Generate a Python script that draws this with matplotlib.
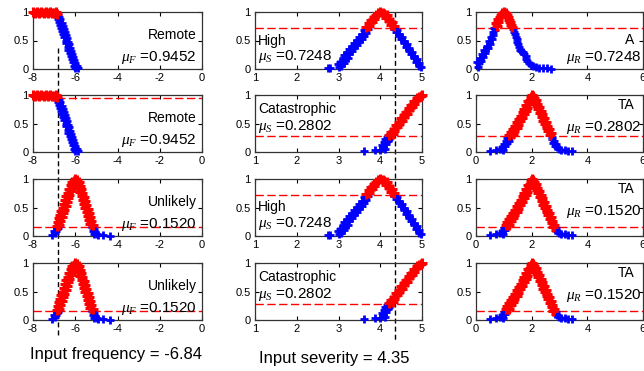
import matplotlib
matplotlib.use('Agg')
import matplotlib.pyplot as plt
from matplotlib.lines import Line2D
import numpy as np

plt.rcParams['font.family'] = ['Liberation Sans', 'DejaVu Sans']
plt.rcParams['mathtext.fontset'] = 'custom'
plt.rcParams['mathtext.it'] = 'Liberation Serif:italic'
plt.rcParams['mathtext.rm'] = 'Liberation Sans'
plt.rcParams['axes.unicode_minus'] = False

# ---- sampled membership clouds (read off the picture) ----
# frequency: Remote
remote_x = [-8.00, -7.90, -7.80, -7.70, -7.60, -7.50, -7.40, -7.30, -7.20, -7.10, -7.00, -6.92, -6.86,
            -6.84, -6.76, -6.82, -6.70, -6.76, -6.64, -6.72, -6.60, -6.66, -6.54, -6.62, -6.50,
            -6.56, -6.44, -6.52, -6.40, -6.46, -6.34, -6.42, -6.30, -6.36, -6.24, -6.32, -6.20,
            -6.26, -6.14, -6.22, -6.10, -6.16, -6.04, -6.12, -6.00, -6.06, -5.94, -6.00, -5.88]
remote_y = [1.00, 0.98, 1.00, 0.99, 1.00, 0.98, 1.00, 0.99, 1.00, 0.98, 0.99, 1.00, 0.97,
            0.94, 0.92, 0.88, 0.87, 0.83, 0.81, 0.78, 0.76, 0.72, 0.70, 0.67, 0.65,
            0.61, 0.59, 0.56, 0.54, 0.50, 0.48, 0.45, 0.43, 0.39, 0.37, 0.34, 0.32,
            0.28, 0.26, 0.23, 0.21, 0.17, 0.15, 0.12, 0.10, 0.06, 0.05, 0.02, 0.01]

# frequency: Unlikely
unlikely_x = [-7.10, -6.98, -6.92, -6.86, -7.02, -6.80, -6.88, -6.76, -6.84, -6.70, -6.78, -6.64,
              -6.72, -6.58, -6.66, -6.52, -6.60, -6.46, -6.54, -6.40, -6.48, -6.34, -6.42, -6.28,
              -6.36, -6.22, -6.30, -6.16, -6.22, -6.10, -6.14, -6.06, -6.00,
              -5.94, -5.90, -5.84, -5.86, -5.78, -5.82, -5.72, -5.76, -5.66, -5.70, -5.60, -5.64,
              -5.54, -5.58, -5.48, -5.52, -5.42, -5.46, -5.36, -5.40, -5.30, -5.34, -5.24, -5.28,
              -5.18, -5.22, -5.12, -5.16, -5.06, -4.98, -5.10, -4.90, -4.70, -4.35]
unlikely_y = [0.02, 0.05, 0.09, 0.12, 0.08, 0.14, 0.17, 0.20, 0.24, 0.27, 0.31, 0.33,
              0.37, 0.40, 0.44, 0.46, 0.50, 0.53, 0.57, 0.59, 0.63, 0.66, 0.70, 0.72,
              0.76, 0.79, 0.83, 0.85, 0.89, 0.92, 0.95, 0.97, 1.00,
              0.98, 0.94, 0.95, 0.90, 0.88, 0.84, 0.82, 0.77, 0.75, 0.70, 0.68, 0.63,
              0.61, 0.56, 0.54, 0.49, 0.47, 0.42, 0.40, 0.35, 0.33, 0.28, 0.26, 0.21,
              0.19, 0.15, 0.13, 0.09, 0.07, 0.04, 0.03, 0.02, 0.01, 0.00]

# severity: High
high_x = [2.75, 2.80, 3.00, 3.06, 2.98, 3.12, 3.04, 3.16, 3.10, 3.22, 3.14, 3.26, 3.20, 3.32,
          3.26, 3.38, 3.32, 3.44, 3.38, 3.50, 3.44, 3.56, 3.50, 3.62, 3.56, 3.66, 3.62, 3.70,
          3.66, 3.74, 3.72, 3.80, 3.78, 3.86, 3.84, 3.90, 3.94, 4.00,
          4.06, 4.10, 4.16, 4.14, 4.22, 4.20, 4.28, 4.26, 4.34, 4.32, 4.40, 4.38, 4.46, 4.44,
          4.52, 4.50, 4.58, 4.56, 4.64, 4.62, 4.70, 4.68, 4.76, 4.74, 4.82, 4.80, 4.88, 4.86,
          4.94, 4.92, 4.97]
high_y = [0.02, 0.01, 0.03, 0.06, 0.08, 0.10, 0.13, 0.15, 0.19, 0.20, 0.24, 0.26, 0.30, 0.31,
          0.35, 0.36, 0.40, 0.42, 0.46, 0.47, 0.51, 0.52, 0.56, 0.58, 0.62, 0.64, 0.68, 0.70,
          0.73, 0.76, 0.80, 0.82, 0.86, 0.88, 0.92, 0.95, 0.98, 1.00,
          0.99, 0.96, 0.94, 0.90, 0.88, 0.84, 0.82, 0.78, 0.75, 0.71, 0.69, 0.65, 0.62, 0.58,
          0.56, 0.52, 0.49, 0.45, 0.43, 0.39, 0.36, 0.32, 0.30, 0.26, 0.23, 0.19, 0.17, 0.13,
          0.10, 0.06, 0.04]

# severity: Catastrophic
cat_x = [3.62, 3.88, 4.00, 4.06, 4.12, 4.04, 4.14, 4.08, 4.18, 4.12, 4.22, 4.16, 4.26,
         4.22, 4.30, 4.26, 4.34, 4.32, 4.40, 4.38, 4.46, 4.44, 4.52, 4.50, 4.58, 4.56, 4.64,
         4.62, 4.70, 4.68, 4.76, 4.74, 4.82, 4.80, 4.88, 4.87, 4.93, 4.97, 5.00]
cat_y = [0.02, 0.03, 0.04, 0.08, 0.05, 0.12, 0.14, 0.17, 0.19, 0.22, 0.23, 0.26, 0.27,
         0.30, 0.31, 0.35, 0.37, 0.41, 0.43, 0.47, 0.49, 0.53, 0.55, 0.59, 0.61, 0.65, 0.67,
         0.71, 0.73, 0.77, 0.79, 0.83, 0.85, 0.89, 0.91, 0.95, 0.96, 0.99, 1.00]

# reliability: A
a_x = [0.06, 0.10, 0.04, 0.18, 0.14, 0.26, 0.22, 0.34, 0.30, 0.42, 0.38, 0.50, 0.46, 0.56,
       0.54, 0.62, 0.60, 0.68, 0.66, 0.74, 0.72, 0.80, 0.80, 0.86, 0.90, 0.94, 1.00,
       1.06, 1.10, 1.14, 1.18, 1.22, 1.26, 1.30, 1.34, 1.36, 1.40, 1.42, 1.46, 1.48, 1.52,
       1.54, 1.58, 1.62, 1.70, 1.74, 1.78, 1.80, 1.84, 1.90, 1.96, 2.04, 2.14, 2.26, 2.40,
       2.56, 2.70]
a_y = [0.04, 0.10, 0.12, 0.14, 0.19, 0.21, 0.26, 0.28, 0.33, 0.36, 0.41, 0.44, 0.49, 0.52,
       0.57, 0.60, 0.65, 0.68, 0.72, 0.75, 0.80, 0.83, 0.88, 0.91, 0.95, 0.98, 1.00,
       0.98, 0.95, 0.91, 0.86, 0.82, 0.78, 0.74, 0.70, 0.65, 0.61, 0.56, 0.52, 0.47, 0.43,
       0.38, 0.34, 0.31, 0.30, 0.26, 0.22, 0.18, 0.14, 0.10, 0.07, 0.05, 0.03, 0.02, 0.01,
       0.01, 0.00]

# reliability: TA
ta_x = [0.50, 0.72, 0.86, 0.96, 0.92, 1.04, 1.00, 1.12, 1.06, 1.18, 1.12, 1.24, 1.20, 1.32,
        1.26, 1.38, 1.34, 1.46, 1.40, 1.52, 1.48, 1.58, 1.54, 1.66, 1.60, 1.72, 1.68, 1.78,
        1.74, 1.84, 1.80, 1.90, 1.88, 1.94, 1.96, 2.00,
        2.06, 2.08, 2.14, 2.12, 2.20, 2.18, 2.26, 2.24, 2.32, 2.30, 2.38, 2.36, 2.44, 2.42,
        2.50, 2.48, 2.56, 2.54, 2.62, 2.60, 2.68, 2.66, 2.74, 2.72, 2.80, 2.78, 2.86, 2.84,
        2.92, 2.98, 3.06, 3.18, 3.32, 3.44]
ta_y = [0.02, 0.03, 0.05, 0.04, 0.09, 0.10, 0.14, 0.15, 0.19, 0.20, 0.24, 0.26, 0.30, 0.31,
        0.35, 0.37, 0.41, 0.42, 0.46, 0.48, 0.52, 0.54, 0.58, 0.60, 0.64, 0.66, 0.70, 0.72,
        0.76, 0.78, 0.82, 0.85, 0.89, 0.92, 0.96, 1.00,
        0.98, 0.94, 0.92, 0.88, 0.85, 0.81, 0.79, 0.75, 0.72, 0.68, 0.66, 0.62, 0.59, 0.55,
        0.53, 0.49, 0.46, 0.42, 0.40, 0.36, 0.33, 0.29, 0.27, 0.23, 0.20, 0.16, 0.14, 0.10,
        0.08, 0.05, 0.04, 0.03, 0.02, 0.01]

# ---- panel contents ----
freq_labels = ['Remote', 'Remote', 'Unlikely', 'Unlikely']
freq_mu = [0.9452, 0.9452, 0.1520, 0.1520]
sev_labels = ['High', 'Catastrophic', 'High', 'Catastrophic']
sev_mu = [0.7248, 0.2802, 0.7248, 0.2802]
rel_labels = ['A', 'TA', 'TA', 'TA']
rel_mu = [0.7248, 0.2802, 0.1520, 0.1520]

input_freq = -6.84
input_sev = 4.35

freq_sets = [(remote_x, remote_y), (remote_x, remote_y), (unlikely_x, unlikely_y), (unlikely_x, unlikely_y)]
sev_sets = [(high_x, high_y), (cat_x, cat_y), (high_x, high_y), (cat_x, cat_y)]
rel_sets = [(a_x, a_y), (ta_x, ta_y), (ta_x, ta_y), (ta_x, ta_y)]

columns = [
    dict(sets=freq_sets, labels=freq_labels, mu=freq_mu, sym='F', xlim=(-8, 0), xticks=[-8, -6, -4, -2, 0]),
    dict(sets=sev_sets, labels=sev_labels, mu=sev_mu, sym='S', xlim=(1, 5), xticks=[1, 2, 3, 4, 5]),
    dict(sets=rel_sets, labels=rel_labels, mu=rel_mu, sym='R', xlim=(0, 6), xticks=[0, 2, 4, 6]),
]

# layout in pixels
W, H = 644, 371
col_left = [33, 255, 476]
col_w = [169, 167, 167]
row_top = [12, 95, 179, 263]
row_h = 57

fig = plt.figure(figsize=(W / 100, H / 100), dpi=100)
axes = [[None] * 4 for _ in range(3)]

for c, col in enumerate(columns):
    for r in range(4):
        ax = fig.add_axes([col_left[c] / W, 1 - (row_top[r] + row_h) / H, col_w[c] / W, row_h / H])
        ax.set_facecolor('none')
        axes[c][r] = ax
        x = np.array(col['sets'][r][0])
        y = np.array(col['sets'][r][1])
        mu = col['mu'][r]
        hi = y >= mu
        ax.plot(x[~hi], y[~hi], '+', color='#0000ff', ms=6, mew=2, clip_on=False, zorder=3)
        ax.plot(x[hi], y[hi], '+', color='#ff0000', ms=6.5, mew=2.2, clip_on=False, zorder=3)
        # first remote panel shows no threshold line
        if not (c == 0 and r == 0):
            ax.axhline(mu, color='#ff0000', lw=1, dashes=(6, 2.5), zorder=2)
        ax.set_xlim(*col['xlim'])
        ax.set_ylim(0, 1)
        ax.set_xticks(col['xticks'])
        ax.set_yticks([0, 0.5, 1])
        ax.set_yticklabels(['0', '0.5', '1'])
        ax.tick_params(direction='in', length=3, width=0.8, labelsize=8, pad=3,
                       top=True, right=True)
        for s in ax.spines.values():
            s.set_linewidth(0.9)
            s.set_color('#333333')

        name = col['labels'][r]
        mu_txt = r'$\mu_{%s}$ =%.4f' % (col['sym'], mu)
        if c == 0:
            ax.text(0.97, 0.60, name, transform=ax.transAxes, ha='right', va='center', fontsize=10)
            ax.text(0.97, 0.20, mu_txt, transform=ax.transAxes, ha='right', va='center', fontsize=11)
        elif c == 1:
            ny, my = (0.50, 0.22) if r % 2 == 0 else (0.76, 0.44)
            ax.text(0.02, ny, name, transform=ax.transAxes, ha='left', va='center', fontsize=10)
            ax.text(0.02, my, mu_txt, transform=ax.transAxes, ha='left', va='center', fontsize=11)
        else:
            ny, my = (0.50, 0.21) if r == 0 else (0.82, 0.43)
            ax.text(0.95, ny, name, transform=ax.transAxes, ha='right', va='center', fontsize=10)
            ax.text(0.99, my, mu_txt, transform=ax.transAxes, ha='right', va='center', fontsize=11)

# vertical input markers spanning the column
def input_line(ax, xval, y_top_px, y_bot_px):
    xd = ax.transData.transform((xval, 0))[0] / fig.bbox.width
    fig.add_artist(Line2D([xd, xd], [1 - y_top_px / H, 1 - y_bot_px / H], transform=fig.transFigure,
                          color='black', lw=1, dashes=(3.6, 2.2), zorder=-1))

input_line(axes[0][0], input_freq, 48, 335)
input_line(axes[1][0], input_sev, 12, 340)

fig.text(116 / W, 1 - 355 / H, 'Input frequency = %.2f' % input_freq, ha='center', va='center', fontsize=12)
fig.text(334 / W, 1 - 358 / H, 'Input severity = %.2f' % input_sev, ha='center', va='center', fontsize=12)

fig.savefig('out.png', dpi=100, facecolor='white')
